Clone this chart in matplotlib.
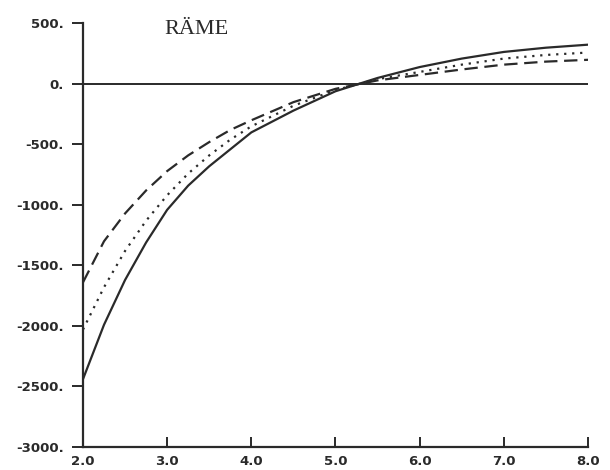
import numpy as np
import matplotlib.pyplot as plt

x = [2.0, 2.25, 2.5, 2.75, 3.0, 3.25, 3.5, 3.75, 4.0, 4.5, 5.0, 5.5, 6.0, 6.5, 7.0, 7.5, 8.0]
solid = [-2440, -1990, -1620, -1310, -1040, -840, -680, -540, -400, -220, -60, 50, 140, 210, 265, 300, 325]
dotted = [-2030, -1680, -1380, -1130, -920, -740, -590, -460, -350, -180, -50, 40, 100, 160, 210, 240, 260]
dashed = [-1640, -1300, -1070, -880, -720, -590, -480, -380, -300, -150, -40, 30, 75, 120, 160, 185, 200]

yticks = [500, 0, -500, -1000, -1500, -2000, -2500, -3000]
xticks = [2.0, 3.0, 4.0, 5.0, 6.0, 7.0, 8.0]

ink = '#2a2a2a'

fig = plt.figure(figsize=(6.1, 4.7), dpi=100)
ax = fig.add_axes([0.136, 0.049, 0.828, 0.901])

ax.plot(x, solid, '-', color=ink, lw=1.6)
ax.plot(x, dotted, linestyle=(0, (1, 2.6)), color=ink, lw=1.6)
ax.plot(x, dashed, linestyle=(0, (6, 3)), color=ink, lw=1.6)
ax.axhline(0, color=ink, lw=1.4)

ax.set_xlim(2, 8)
ax.set_ylim(-3000, 500)
ax.spines['top'].set_visible(False)
ax.spines['right'].set_visible(False)
for s in ('left', 'bottom'):
    ax.spines[s].set_color(ink)
    ax.spines[s].set_linewidth(1.6)

ax.set_yticks(yticks)
ax.set_yticklabels([f'{v}.' for v in yticks])
ax.set_xticks(xticks)
ax.set_xticklabels([f'{v:.1f}' for v in xticks])
ax.tick_params(axis='y', direction='out', length=8, width=1.4, color=ink, pad=6)
ax.tick_params(axis='x', direction='in', length=7, width=1.4, color=ink, pad=6)
for lab in ax.get_xticklabels() + ax.get_yticklabels():
    lab.set_family('DejaVu Sans')
    lab.set_fontweight('bold')
    lab.set_fontsize(9.5)
    lab.set_color(ink)

ax.text(0.225, 0.985, 'RÄME', transform=ax.transAxes, ha='center', va='center',
        family='Liberation Serif', fontsize=16, color=ink)

fig.savefig('out.png', dpi=100)
